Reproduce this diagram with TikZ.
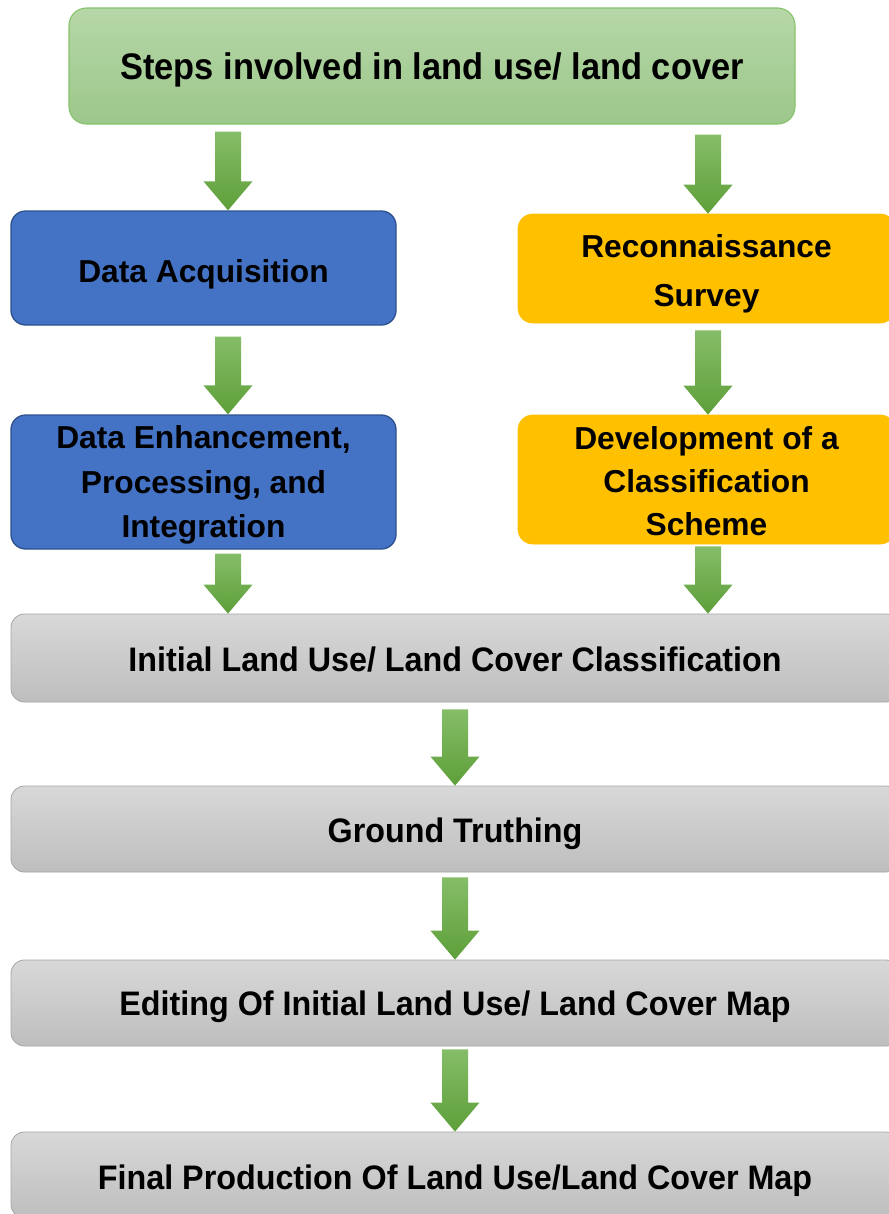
\documentclass[tikz,border=0pt]{standalone}
\usepackage{fontspec}
\usepackage{graphicx}
\setmainfont{Liberation Sans}
\usetikzlibrary{calc}
\definecolor{titletop}{HTML}{B6D7A8}
\definecolor{titlebot}{HTML}{9CC78A}
\definecolor{titleline}{HTML}{86C36A}
\definecolor{bluefill}{HTML}{4472C4}
\definecolor{blueline}{HTML}{2F528F}
\definecolor{orangefill}{HTML}{FFC000}
\definecolor{greytop}{HTML}{D8D8D8}
\definecolor{greybot}{HTML}{BEBEBE}
\definecolor{greyline}{HTML}{A6A6A6}
\definecolor{arrowtop}{HTML}{85BD68}
\definecolor{arrowbot}{HTML}{5E9F39}
\newcommand\garrow[4]{% #1 x in px, #2 gap in px, #3 from node, #4 to node
  \shade[arrowshade] let \p1=(#3.south), \p2=(#4.north) in
    (#1*0.75pt-9.75pt,\y1-#2*0.75pt) -- (#1*0.75pt+9.75pt,\y1-#2*0.75pt)
    -- (#1*0.75pt+9.75pt,\y2+21.75pt) -- (#1*0.75pt+18.4pt,\y2+21.75pt)
    -- (#1*0.75pt,\y2) -- (#1*0.75pt-18.4pt,\y2+21.75pt)
    -- (#1*0.75pt-9.75pt,\y2+21.75pt) -- cycle;}
\begin{document}
\begin{tikzpicture}[x=0.75pt,y=-0.75pt,
  basebox/.style={inner sep=0pt, align=center, text=black, text depth=0pt},
  titlebox/.style={basebox, rounded corners=13pt, top color=titletop, bottom color=titlebot,
    draw=titleline, line width=0.8pt, minimum width=544.5pt, minimum height=87pt,
    font=\bfseries\fontsize{27.75}{30}\selectfont},
  bluebox/.style={basebox, rounded corners=11pt, fill=bluefill, draw=blueline, line width=1pt,
    minimum width=288.75pt},
  orangebox/.style={basebox, rounded corners=11pt, fill=orangefill, draw=orangefill, line width=0.5pt,
    minimum width=282.75pt},
  greybox/.style={basebox, rounded corners=10pt, top color=greytop, bottom color=greybot,
    draw=greyline, line width=0.6pt, minimum width=666pt, minimum height=64.5pt,
    font=\bfseries\fontsize{25.5}{30}\selectfont},
  arrowshade/.style={top color=arrowtop, bottom color=arrowbot}]
\useasboundingbox (0,0) rectangle (889,1214);
\clip (0,0) rectangle (889,1214);
\fill[white] (0,0) rectangle (889,1214);

\node[titlebox, text height=20pt] (title) at (432,66)
  {\scalebox{0.93}[1]{Steps involved in land use/ land cover}};

\node[bluebox, minimum height=85.5pt, text height=21.6pt,
  font=\bfseries\fontsize{23.8}{33}\selectfont] (da) at (203.5,268)
  {Data Acquisition};
\node[orangebox, minimum height=81.75pt, text height=57.7pt,
  font=\bfseries\fontsize{23.8}{36.75}\selectfont] (rs) at (706.5,268.5)
  {Reconnaissance\\Survey};

\node[bluebox, minimum height=100.5pt, text height=83.9pt,
  font=\bfseries\fontsize{23.8}{33.4}\selectfont] (de) at (203.5,482)
  {Data Enhancement,\\Processing, and\\Integration};
\node[orangebox, minimum height=96.75pt, text height=83.3pt,
  font=\bfseries\fontsize{23.8}{32}\selectfont] (dc) at (706.5,479.5)
  {Development of a\\Classification\\Scheme};

\node[greybox, minimum height=66pt, text height=19.9pt] (g1) at (455,658)
  {\scalebox{0.95}[1]{Initial Land Use/ Land Cover Classification}};
\node[greybox, text height=19.9pt] (g2) at (455,829)
  {\scalebox{0.95}[1]{Ground Truthing}};
\node[greybox, text height=18.4pt] (g3) at (455,1003)
  {\scalebox{0.95}[1]{Editing Of Initial Land Use/ Land Cover Map}};
\node[greybox, text height=21.4pt] (g4) at (455,1175)
  {\scalebox{0.95}[1]{Final Production Of Land Use/Land Cover Map}};

\garrow{228}{7}{title}{da}
\garrow{708}{10}{title}{rs}
\garrow{228}{11}{da}{de}
\garrow{708}{7}{rs}{dc}
\garrow{228}{4}{de}{g1}
\garrow{708}{2}{dc}{g1}
\garrow{455}{7}{g1}{g2}
\garrow{455}{5}{g2}{g3}
\garrow{455}{3}{g3}{g4}
\end{tikzpicture}
\end{document}
